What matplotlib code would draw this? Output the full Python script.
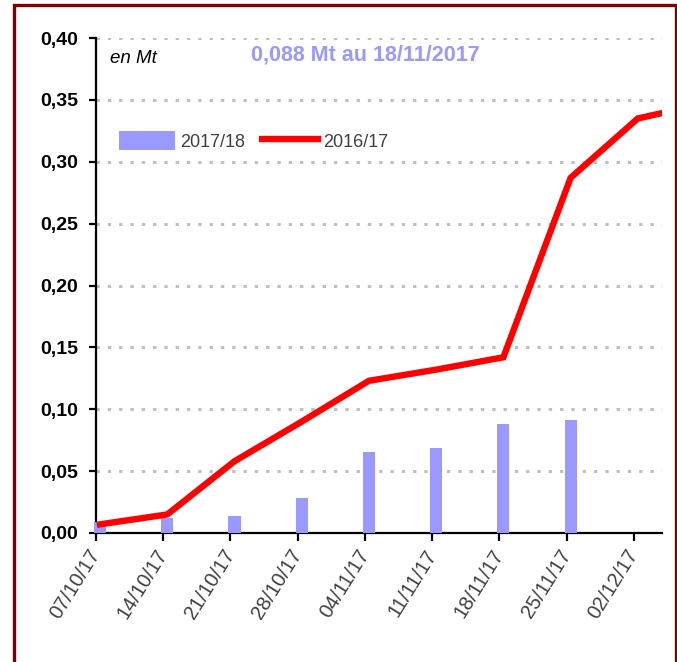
# Cumulative volumes 2017/18 vs 2016/17 (en Mt)

import matplotlib
matplotlib.use("Agg")
import matplotlib.pyplot as plt
import matplotlib.patches as patches
import numpy as np

# DATA
dates = ['07/10/17', '14/10/17', '21/10/17', '28/10/17', '04/11/17',
         '11/11/17', '18/11/17', '25/11/17', '02/12/17']
v2017 = [0.009, 0.0125, 0.014, 0.0285, 0.0655, 0.0685, 0.088, 0.091]
v2016 = [0.007, 0.015, 0.058, 0.090, 0.123, 0.132, 0.142, 0.287, 0.335, 0.347]
yticks = [0.00, 0.05, 0.10, 0.15, 0.20, 0.25, 0.30, 0.35, 0.40]

BAR = '#9999ff'
RED = '#ff0000'
NARROW = ['Liberation Sans Narrow', 'Liberation Sans', 'DejaVu Sans']

fig = plt.figure(figsize=(6.77, 6.62), dpi=100)
ax = fig.add_axes([96/677, 1-533/662, 566/677, 495/662])

# small shift of the marks to the right of the ticks, as in the original
off = 0.06
xb = np.arange(len(v2017)) + off
xl = np.arange(len(v2016)) + off

bars = ax.bar(xb, v2017, width=0.18, color=BAR, label='2017/18', zorder=3)
for b in bars:
    b.set_clip_on(False)
line, = ax.plot(xl, v2016, color=RED, lw=4.6, label='2016/17', zorder=4,
                solid_joinstyle='miter')

ax.set_xlim(0, 8.42)
ax.set_ylim(0, 0.40)
ax.set_yticks(yticks)
ax.set_yticklabels(['{:.2f}'.format(t).replace('.', ',') for t in yticks],
                   fontname='Liberation Sans', fontweight='bold', fontsize=14)
ax.set_xticks(np.arange(len(dates)))
ax.set_xticklabels(dates, rotation=58, ha='right', va='center',
                   rotation_mode='anchor', family=NARROW, fontsize=14.5,
                   color='#404040')

# grid lines
for t in yticks[1:]:
    ax.axhline(t, color='#c0c0c0', lw=2.2, dashes=(1.1, 2.6),
               dash_capstyle='butt', zorder=1)

for s in ['top', 'right']:
    ax.spines[s].set_visible(False)
ax.spines['left'].set_linewidth(1.6)
ax.spines['bottom'].set_linewidth(1.6)
ax.tick_params(axis='y', direction='out', length=5, width=1.6, pad=8)
ax.tick_params(axis='x', direction='out', length=6, width=1.6, pad=7)

ax.text(0.025, 0.958, 'en Mt', transform=ax.transAxes, fontname='Liberation Sans',
        style='italic', fontsize=13.5, va='center', ha='left')
ax.text(0.476, 0.966, '0,088 Mt au 18/11/2017', transform=ax.transAxes,
        fontname='Liberation Sans', fontweight='bold', fontsize=15.5, color=BAR,
        va='center', ha='center')

ax.legend([bars, line], ['2017/18', '2016/17'], loc='center left',
          bbox_to_anchor=(0.012, 0.792), ncol=2, frameon=False,
          prop={'family': NARROW, 'size': 13}, handlelength=3.1,
          handleheight=1.2, handletextpad=0.3, columnspacing=0.9,
          labelcolor='#404040')

# dark red frame round the figure
fig.patches.append(patches.Rectangle((13.5/677, -0.1), (675.5-13.5)/677, 1.1 - 4.5/662,
                                     transform=fig.transFigure, fill=False,
                                     edgecolor='#800000', lw=2.4))

fig.savefig('out.png', dpi=100)
